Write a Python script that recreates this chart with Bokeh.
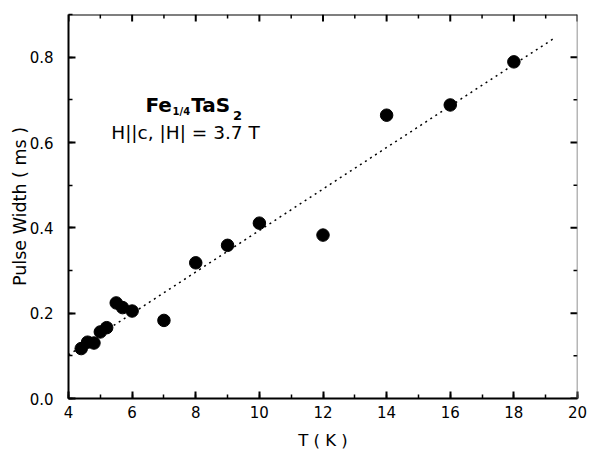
import math
from bokeh.plotting import figure
from bokeh.models import Range1d, SingleIntervalTicker, PrintfTickFormatter, Label, Span
from bokeh.embed import file_html
from bokeh.resources import INLINE

# ---- data ----
T_K = [4.4, 4.6, 4.8, 5.0, 5.2, 5.5, 5.7, 6.0, 7.0, 8.0, 9.0, 10.0, 12.0, 14.0, 16.0, 18.0]
width_ms = [0.117, 0.132, 0.130, 0.156, 0.166, 0.224, 0.213, 0.205, 0.183, 0.318,
            0.359, 0.411, 0.383, 0.664, 0.688, 0.789]
fit_T = [4.0, 19.3]
fit_W = [0.102, 0.846]

x_major_ticks = [4, 6, 8, 10, 12, 14, 16, 18, 20]
y_major_ticks = [0.0, 0.2, 0.4, 0.6, 0.8]

FONT = "DejaVu Sans"
X0, X1, Y0, Y1 = 4, 20, 0, 0.9

p = figure(width=589, height=452, output_backend="svg", toolbar_location=None,
           x_range=Range1d(X0, X1), y_range=Range1d(Y0, Y1),
           x_axis_label="T ( K )", y_axis_label="Pulse Width ( ms )",
           min_border_left=68, min_border_right=12, min_border_top=14, min_border_bottom=54)
p.xgrid.visible = False
p.ygrid.visible = False
p.outline_line_color = None
p.background_fill_color = "white"
p.border_fill_color = "white"


def style(ax):
    ax.axis_line_color = "black"
    ax.axis_line_width = 2
    ax.major_tick_in = 7
    ax.major_tick_out = 0
    ax.minor_tick_in = 4
    ax.minor_tick_out = 0
    ax.major_tick_line_width = 2
    ax.minor_tick_line_width = 1.5
    ax.major_tick_line_color = "black"
    ax.minor_tick_line_color = "black"
    ax.major_label_text_font = FONT
    ax.major_label_text_font_size = "15px"
    ax.major_label_text_color = "black"
    ax.axis_label_text_font = FONT
    ax.axis_label_text_font_style = "normal"
    ax.axis_label_text_color = "black"


xa = p.xaxis[0]
xa.ticker = SingleIntervalTicker(interval=2, num_minor_ticks=2)
style(xa)
xa.major_label_standoff = 7
xa.axis_label_standoff = 10
xa.axis_label_text_font_size = "16.5px"

ya = p.yaxis[0]
ya.ticker = SingleIntervalTicker(interval=0.2, num_minor_ticks=2)
ya.formatter = PrintfTickFormatter(format="%.1f")
style(ya)
ya.major_label_standoff = 15
ya.axis_label_standoff = -3
ya.axis_label_text_font_size = "17.5px"

# top and right frame lines with inward ticks (mirror of the main axes)
p.add_layout(Span(location=Y1, dimension="width", line_color="black", line_width=2))
p.add_layout(Span(location=X1, dimension="height", line_color="#6e6e6e", line_width=1.5))

x_minor = [(a + b) / 2 for a, b in zip(x_major_ticks[:-1], x_major_ticks[1:])]
y_minor = [(a + b) / 2 for a, b in zip(y_major_ticks[:-1], y_major_ticks[1:])]

p.ray(x=x_major_ticks, y=[Y1] * len(x_major_ticks), length=7, angle=-math.pi / 2,
      length_units="screen", line_color="black", line_width=2)
p.ray(x=x_minor, y=[Y1] * len(x_minor), length=4, angle=-math.pi / 2,
      length_units="screen", line_color="black", line_width=1.5)
p.ray(x=[X1] * len(y_major_ticks), y=y_major_ticks, length=7, angle=math.pi,
      length_units="screen", line_color="black", line_width=2)
p.ray(x=[X1] * len(y_minor), y=y_minor, length=4, angle=math.pi,
      length_units="screen", line_color="black", line_width=1.5)

p.line(fit_T, fit_W, line_color="black", line_width=1.5, line_dash="2 4")
p.scatter(T_K, width_ms, size=12.5, fill_color="black", line_color="black")

# formula label Fe1/4TaS2 built from pieces
def lab(x, y, text, size, bold=True, align="left"):
    p.add_layout(Label(x=x, y=y, text=text, text_font=FONT,
                       text_font_style="bold" if bold else "normal",
                       text_font_size=size, text_color="black",
                       text_baseline="alphabetic", text_align=align))

lab(6.42, 0.687, "Fe", "20px")
lab(7.27, 0.672, "1/4", "10px")
lab(7.86, 0.687, "TaS", "20px")
lab(9.17, 0.6625, "2", "13px")
lab(7.678, 0.6234, "H||c, |H| = 3.7 T", "18.5px", bold=False, align="center")

open("out.html", "w").write(file_html(p, INLINE))
